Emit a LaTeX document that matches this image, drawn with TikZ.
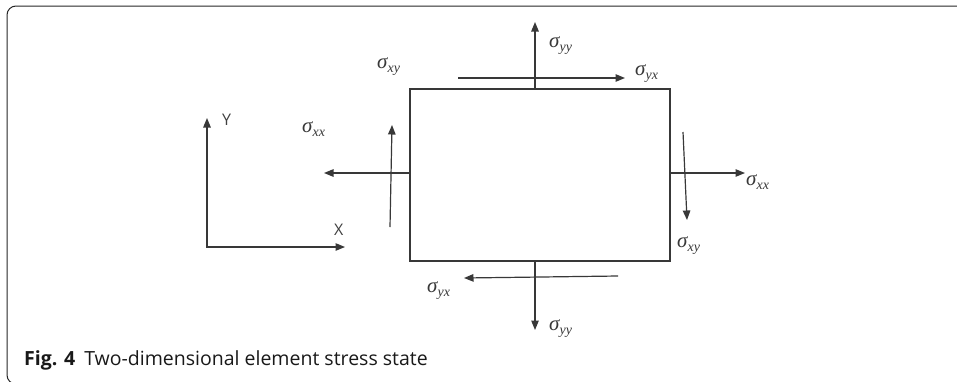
\documentclass[tikz,border=0pt]{standalone}
\usepackage{fontspec}
\setmainfont{Liberation Serif}
\newfontfamily\capfont{Open Sans}
\usetikzlibrary{arrows.meta}
\newcommand{\sgm}[1]{\textit{\fontsize{21}{21}\selectfont σ\raisebox{-4.5pt}{\fontsize{14}{14}\selectfont #1}}}
\begin{document}
\begin{tikzpicture}[x=1pt,y=-1pt,
  ln/.style={line width=1.2pt, draw=black!78},
  tip/.style={-{Triangle[length=9.5pt,width=7.5pt]}},
  arr/.style={ln, tip},
  lab/.style={inner sep=0pt, anchor=base west, text=black!78},
  axlab/.style={inner sep=0pt, anchor=base west, text=black!75, font=\capfont\fontsize{16}{16}\selectfont},
  ]
\useasboundingbox (0,0) rectangle (957,381);
\begin{scope}
\clip (0,0) rectangle (957,381);
\draw[line width=1pt, black!85, rounded corners=9pt] (7,6) rectangle (990,384);
\end{scope}

% element
\node[ln, draw, minimum width=260pt, minimum height=172pt, inner sep=0pt, outer sep=0pt] (el) at (540,175) {};

% free ends
\coordinate (tyy) at (535,22);
\coordinate (byy) at (535,330);
\coordinate (lxx) at (324,173);
\coordinate (rxx) at (745,173);
\coordinate (ts0) at (458,78);
\coordinate (ts1) at (625,78);
\coordinate (bs0) at (618,276);
\coordinate (bs1) at (464,278);
\coordinate (ls0) at (390,227);
\coordinate (ls1) at (392,125);
\coordinate (rs0) at (683,132);
\coordinate (rs1) at (687,220);

\draw[arr] (tyy |- el.north) -- (tyy);
\draw[arr] (byy |- el.south) -- (byy);
\draw[arr] (lxx -| el.west) -- (lxx);
\draw[arr] (rxx -| el.east) -- (rxx);
\draw[arr] (ts0) -- (ts1);
\draw[arr] (bs0) -- (bs1);
\draw[arr] (ls0) -- (ls1);
\draw[arr] (rs0) -- (rs1);

% labels
\node[lab] (l1) at (549,47) {\sgm{yy}};
\node[lab] (l2) at (635,75) {\sgm{yx}};
\node[lab] (l3) at (377,68) {\sgm{xy}};
\node[lab] (l4) at (302,132) {\sgm{xx}};
\node[lab] (l5) at (746,185) {\sgm{xx}};
\node[lab] (l6) at (677,247) {\sgm{xy}};
\node[lab] (l7) at (427,292) {\sgm{yx}};
\node[lab] (l8) at (549,330) {\sgm{yy}};

% axes
\coordinate (ao) at (207,247);
\coordinate (ay) at (207,118);
\coordinate (ax) at (345,247);
\draw[ln, {Triangle[length=9.5pt,width=7.5pt]}-{Triangle[length=9.5pt,width=7.5pt]}] (ay) -- (ao) -- (ax);
\node[axlab] (Y) at (222,125) {Y};
\node[axlab] (X) at (334,235) {X};

% caption
\node[inner sep=0pt, anchor=base west, text=black!90, font=\capfont\fontsize{19.5}{19.5}\selectfont] (cap) at (24,365) {\textbf{Fig. 4}\hspace{9pt}Two-dimensional element stress state};
\end{tikzpicture}
\end{document}
